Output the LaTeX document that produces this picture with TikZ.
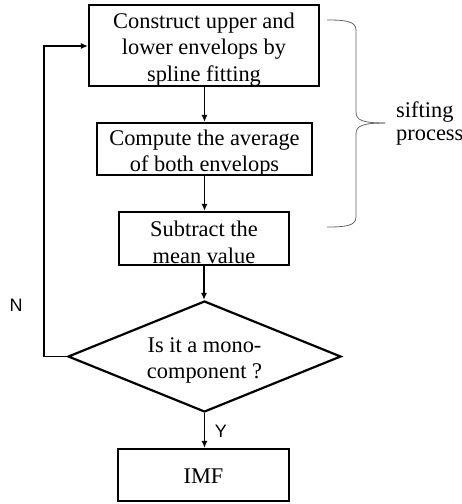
\documentclass[tikz,border=0pt]{standalone}
\usepackage{fontspec}
\setmainfont{Liberation Serif}
\newfontfamily\arialfont{Liberation Sans}
\usetikzlibrary{shapes.geometric,arrows.meta}
\begin{document}
\begin{tikzpicture}[x=1pt,y=-1pt,
  txt/.style={inner sep=0pt, align=center, font=\fontsize{22.4}{26.7}\selectfont, yshift=-4pt},
  procbox/.style={draw, line width=2.2pt, inner sep=0pt},
  decbox/.style={draw, line width=2.2pt, diamond, shape aspect=2.46, inner sep=0pt,
    minimum width=273pt, minimum height=111pt},
  flow/.style={line width=1.6pt, -{Latex[length=7pt,width=6pt]}},
  lbl/.style={font=\arialfont\fontsize{18}{20}\selectfont, inner sep=0pt},
  bracestyle/.style={draw=black!60, line width=0.8pt}
]
\useasboundingbox (0,0) rectangle (462,504);

\node[procbox, minimum width=230pt, minimum height=81pt,
  label={[txt]center:{Construct upper and\\lower envelops by\\spline fitting}}] (b1) at (204,45.5) {};
\node[procbox, minimum width=215pt, minimum height=52pt,
  label={[txt]center:{Compute the average\\of both envelops}}] (b2) at (204.5,149) {};
\node[procbox, minimum width=170pt, minimum height=53pt,
  label={[txt]center:{Subtract the\\mean value}}] (b3) at (204,238.5) {};
\node[decbox, label={[txt]center:{Is it a mono-\\component ?}}] (d) at (204.5,356.5) {};
\node[procbox, minimum width=171pt, minimum height=52pt,
  label={[txt, yshift=3pt]center:{IMF}}] (imf) at (203.5,475) {};

\coordinate (loopbot) at (44,356.5);
\coordinate (looptop) at (44,46);

\draw[flow] (b1.south -| b2.north) -- (b2.north);
\draw[flow] (b2.south) -- (b2.south |- b3.north);
\draw[flow] (b3.south) -- (b3.south |- d.north);
\draw[flow] (d.south) -- (d.south |- imf.north);
\draw[flow] (d.west) -- (loopbot) -- (looptop) -- (looptop -| b1.west);

\node[lbl] (n) at (16,305) {N};
\node[lbl] (y) at (221,431) {Y};

\coordinate (bt) at (327,20);
\coordinate (bb) at (327,227);
\coordinate (tip) at (385,123);
\draw[bracestyle] (bt) .. controls (345,20) and (356,21) .. (356,30)
  -- (356,112) .. controls (356,120) and (362,123) .. (tip);
\draw[bracestyle] (tip) .. controls (362,123) and (356,126) .. (356,134)
  -- (356,217) .. controls (356,226) and (345,227) .. (bb);

\node[anchor=west, align=left, inner sep=0pt, font=\fontsize{22.4}{23}\selectfont] (sp) at (396,123)
  {sifting\\process};
\end{tikzpicture}
\end{document}
